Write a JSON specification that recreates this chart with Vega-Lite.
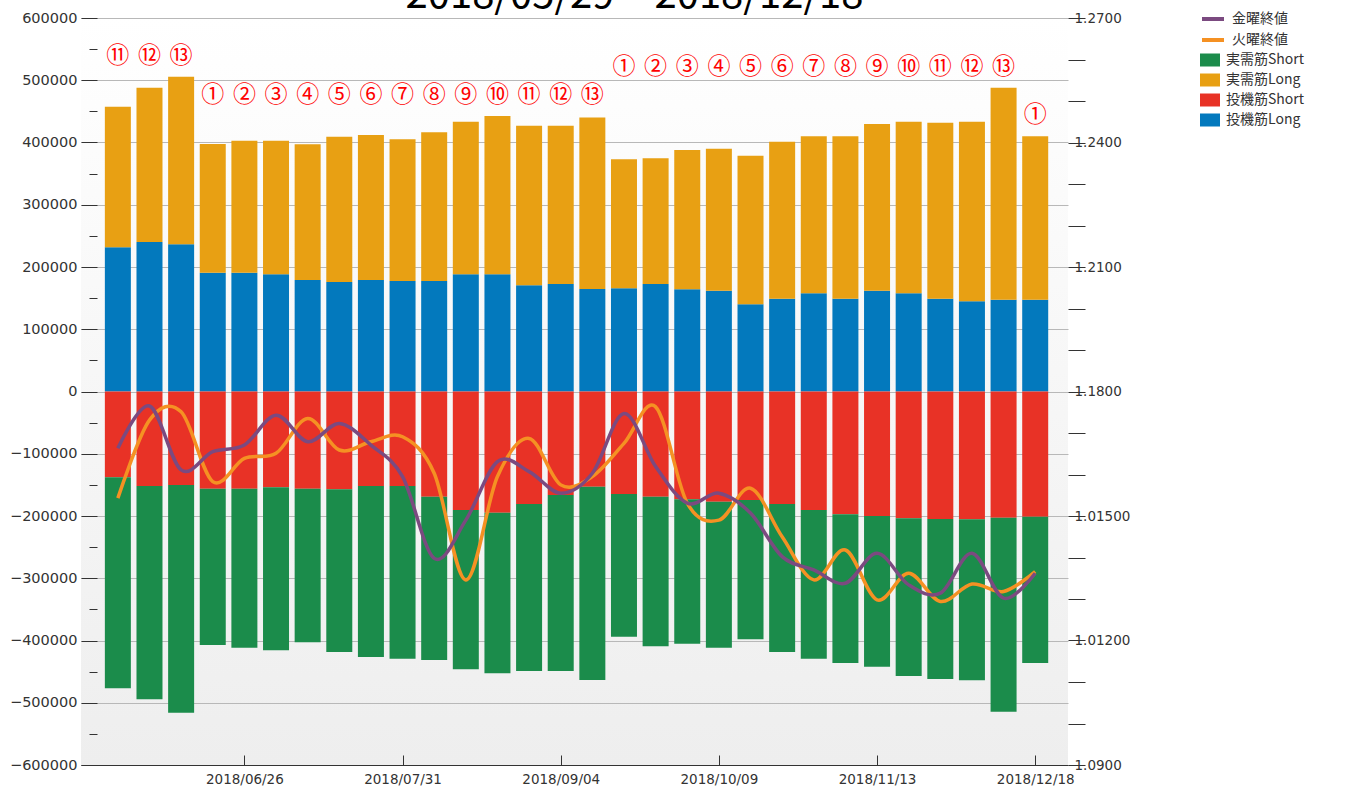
{
  "$schema": "https://vega.github.io/schema/vega-lite/v6.json",
  "autosize": "none",
  "width": 987,
  "height": 747,
  "padding": {"left": 81, "top": 18, "right": 283, "bottom": 31},
  "background": "white",
  "title": {"text": "2018/05/29～2018/12/18", "fontSize": 40, "font": "Noto Sans CJK JP", "fontWeight": "normal", "color": "#000000", "baseline": "alphabetic", "offset": 6, "dx": 60, "dy": 48, "anchor": "middle", "frame": "group"},
  "config": {
    "view": {"stroke": null, "fill": {"gradient": "linear", "x1": 0, "y1": 0, "x2": 0, "y2": 1, "stops": [{"offset": 0, "color": "#ffffff"}, {"offset": 1, "color": "#eeeeee"}]}},
    "axis": {"labelOverlap": false, "labelFlush": false, "title": null}
  },
  "data": {"values": [
    {"date": "2018-05-29", "投機筋Long": 231600, "実需筋Long": 225900, "投機筋Short": -137900, "実需筋Short": -338900, "金曜終値": 1.1663, "火曜終値": 1.1543, "num": "⑪", "grp": "A"},
    {"date": "2018-06-05", "投機筋Long": 240200, "実需筋Long": 247800, "投機筋Short": -151800, "実需筋Short": -342700, "金曜終値": 1.1765, "火曜終値": 1.1731, "num": "⑫", "grp": "A"},
    {"date": "2018-06-12", "投機筋Long": 236500, "実需筋Long": 269200, "投機筋Short": -150200, "実需筋Short": -365800, "金曜終値": 1.1611, "火曜終値": 1.1751, "num": "⑬", "grp": "A"},
    {"date": "2018-06-19", "投機筋Long": 190800, "実需筋Long": 206800, "投機筋Short": -156100, "実需筋Short": -251100, "金曜終値": 1.1655, "火曜終値": 1.1583, "num": "①", "grp": "B"},
    {"date": "2018-06-26", "投機筋Long": 190800, "実需筋Long": 212100, "投機筋Short": -156100, "実需筋Short": -255400, "金曜終値": 1.1671, "火曜終値": 1.1639, "num": "②", "grp": "B"},
    {"date": "2018-07-03", "投機筋Long": 188200, "実需筋Long": 214700, "投機筋Short": -153900, "実需筋Short": -261900, "金曜終値": 1.1743, "火曜終値": 1.1651, "num": "③", "grp": "B"},
    {"date": "2018-07-10", "投機筋Long": 179100, "実需筋Long": 218000, "投機筋Short": -156100, "実需筋Short": -246800, "金曜終値": 1.1679, "火曜終値": 1.1735, "num": "④", "grp": "B"},
    {"date": "2018-07-17", "投機筋Long": 175900, "実需筋Long": 233400, "投機筋Short": -157200, "実需筋Short": -261300, "金曜終値": 1.1723, "火曜終値": 1.1659, "num": "⑤", "grp": "B"},
    {"date": "2018-07-24", "投機筋Long": 179100, "実需筋Long": 232900, "投機筋Short": -151800, "実需筋Short": -274700, "金曜終値": 1.1671, "火曜終値": 1.1679, "num": "⑥", "grp": "B"},
    {"date": "2018-07-31", "投機筋Long": 177500, "実需筋Long": 227600, "投機筋Short": -151800, "実需筋Short": -277400, "金曜終値": 1.1595, "火曜終値": 1.1691, "num": "⑦", "grp": "B"},
    {"date": "2018-08-07", "投機筋Long": 177500, "実需筋Long": 238900, "投機筋Short": -169000, "実需筋Short": -262300, "金曜終値": 1.1398, "火曜終値": 1.1603, "num": "⑧", "grp": "B"},
    {"date": "2018-08-14", "投機筋Long": 188200, "実需筋Long": 245200, "投機筋Short": -190400, "実需筋Short": -255900, "金曜終値": 1.1490, "火曜終値": 1.1346, "num": "⑨", "grp": "B"},
    {"date": "2018-08-21", "投機筋Long": 188200, "実需筋Long": 254400, "投機筋Short": -194700, "実需筋Short": -258000, "金曜終値": 1.1631, "火曜終値": 1.1595, "num": "⑩", "grp": "B"},
    {"date": "2018-08-28", "投機筋Long": 170600, "実需筋Long": 256400, "投機筋Short": -180700, "実需筋Short": -268300, "金曜終値": 1.1607, "火曜終値": 1.1687, "num": "⑪", "grp": "B"},
    {"date": "2018-09-04", "投機筋Long": 172700, "実需筋Long": 254300, "投機筋Short": -166300, "実需筋Short": -282700, "金曜終値": 1.1555, "火曜終値": 1.1575, "num": "⑫", "grp": "B"},
    {"date": "2018-09-11", "投機筋Long": 164500, "実需筋Long": 275700, "投機筋Short": -152900, "実需筋Short": -310600, "金曜終値": 1.1603, "火曜終値": 1.1595, "num": "⑬", "grp": "B"},
    {"date": "2018-09-18", "投機筋Long": 165800, "実需筋Long": 207200, "投機筋Short": -164700, "実需筋Short": -229100, "金曜終値": 1.1747, "火曜終値": 1.1675, "num": "①", "grp": "C"},
    {"date": "2018-09-25", "投機筋Long": 172700, "実需筋Long": 201900, "投機筋Short": -169000, "実需筋Short": -240300, "金曜終値": 1.1619, "火曜終値": 1.1763, "num": "②", "grp": "C"},
    {"date": "2018-10-02", "投機筋Long": 164200, "実需筋Long": 223700, "投機筋Short": -173200, "実需筋Short": -231900, "金曜終値": 1.1531, "火曜終値": 1.1531, "num": "③", "grp": "C"},
    {"date": "2018-10-09", "投機筋Long": 161900, "実需筋Long": 228200, "投機筋Short": -177000, "実需筋Short": -234500, "金曜終値": 1.1555, "火曜終値": 1.1490, "num": "④", "grp": "C"},
    {"date": "2018-10-16", "投機筋Long": 140000, "実需筋Long": 238800, "投機筋Short": -174300, "実需筋Short": -223800, "金曜終値": 1.1507, "火曜終値": 1.1567, "num": "⑤", "grp": "C"},
    {"date": "2018-10-23", "投機筋Long": 149100, "実需筋Long": 252200, "投機筋Short": -180700, "実需筋Short": -237800, "金曜終値": 1.1402, "火曜終値": 1.1450, "num": "⑥", "grp": "C"},
    {"date": "2018-10-30", "投機筋Long": 157700, "実需筋Long": 252200, "投機筋Short": -190400, "実需筋Short": -238800, "金曜終値": 1.1370, "火曜終値": 1.1346, "num": "⑦", "grp": "C"},
    {"date": "2018-11-06", "投機筋Long": 149100, "実需筋Long": 260800, "投機筋Short": -197300, "実需筋Short": -238800, "金曜終値": 1.1338, "火曜終値": 1.1418, "num": "⑧", "grp": "C"},
    {"date": "2018-11-13", "投機筋Long": 161900, "実需筋Long": 267800, "投機筋Short": -200000, "実需筋Short": -242100, "金曜終値": 1.1410, "火曜終値": 1.1298, "num": "⑨", "grp": "C"},
    {"date": "2018-11-20", "投機筋Long": 157700, "実需筋Long": 275700, "投機筋Short": -203700, "実需筋Short": -253300, "金曜終値": 1.1334, "火曜終値": 1.1362, "num": "⑩", "grp": "C"},
    {"date": "2018-11-27", "投機筋Long": 149100, "実需筋Long": 282700, "投機筋Short": -204800, "実需筋Short": -257000, "金曜終値": 1.1314, "火曜終値": 1.1294, "num": "⑪", "grp": "C"},
    {"date": "2018-12-04", "投機筋Long": 144900, "実需筋Long": 288500, "投機筋Short": -205300, "実需筋Short": -258600, "金曜終値": 1.1410, "火曜終値": 1.1336, "num": "⑫", "grp": "C"},
    {"date": "2018-12-11", "投機筋Long": 147500, "実需筋Long": 340500, "投機筋Short": -202700, "実需筋Short": -311600, "金曜終値": 1.1302, "火曜終値": 1.1318, "num": "⑬", "grp": "C"},
    {"date": "2018-12-18", "投機筋Long": 147500, "実需筋Long": 262400, "投機筋Short": -201100, "実需筋Short": -235000, "金曜終値": 1.1362, "火曜終値": 1.1366, "num": "①", "grp": "D"}
  ]},
  "encoding": {
    "x": {
      "field": "date", "type": "temporal",
      "scale": {"type": "utc", "domain": [{"year": 2018, "month": 5, "date": 21, "hours": 22, "minutes": 48, "utc": true}, {"year": 2018, "month": 12, "date": 24, "hours": 3, "minutes": 36, "utc": true}]},
      "axis": {
        "values": [{"year": 2018, "month": 6, "date": 26, "utc": true}, {"year": 2018, "month": 7, "date": 31, "utc": true}, {"year": 2018, "month": 9, "date": 4, "utc": true}, {"year": 2018, "month": 10, "date": 9, "utc": true}, {"year": 2018, "month": 11, "date": 13, "utc": true}, {"year": 2018, "month": 12, "date": 18, "utc": true}],
        "labelExpr": "utcFormat(datum.value, '%Y/%m/%d')",
        "grid": false, "tickSize": -10, "labelPadding": 17,
        "domainColor": "#333333", "tickColor": "#333333",
        "labelFont": "DejaVu Sans", "labelFontSize": 13.5, "labelColor": "#333333"
      }
    }
  },
  "layer": [
    {
      "transform": [{"fold": ["投機筋Long", "実需筋Long", "投機筋Short", "実需筋Short"], "as": ["key", "value"]}],
      "mark": {"type": "bar", "width": 26},
      "encoding": {
        "y": {"field": "value", "type": "quantitative", "stack": "zero",
          "scale": {"domain": [-600000, 600000], "nice": false, "zero": false},
          "axis": {"orient": "left", "values": [-600000, -500000, -400000, -300000, -200000, -100000, 0, 100000, 200000, 300000, 400000, 500000, 600000],
            "format": "d", "tickSize": -16, "labelPadding": 20, "domain": false, "grid": true, "gridColor": "#b8b8b8",
            "tickColor": "#333333", "labelFont": "DejaVu Sans", "labelFontSize": 14.5, "labelColor": "#333333"}},
        "fill": {"field": "key", "type": "nominal",
          "scale": {"domain": ["実需筋Short", "実需筋Long", "投機筋Short", "投機筋Long"], "range": ["#1b8c4b", "#e8a013", "#e83226", "#0379bd"]},
          "legend": {"title": null, "orient": "none", "legendX": 1119, "legendY": 32, "symbolType": "M-1,-0.65L1,-0.65L1,0.65L-1,0.65Z", "symbolSize": 400, "symbolStrokeWidth": 0, "labelFont": "Noto Sans CJK JP", "labelFontSize": 14, "labelColor": "#333333", "rowPadding": 3, "labelOffset": 6}},
        "order": {"field": "key", "sort": "descending"}
      }
    },
    {
      "transform": [{"fold": ["火曜終値", "金曜終値"], "as": ["key", "value"]}],
      "mark": {"type": "line", "interpolate": "cardinal", "strokeWidth": 3.5},
      "encoding": {
        "y": {"field": "value", "type": "quantitative",
          "scale": {"domain": [1.09, 1.27], "nice": false, "zero": false},
          "axis": {"orient": "right", "values": [1.09, 1.1, 1.11, 1.12, 1.13, 1.14, 1.15, 1.16, 1.17, 1.18, 1.19, 1.2, 1.21, 1.22, 1.23, 1.24, 1.25, 1.26, 1.27],
            "labelExpr": "abs(datum.value-1.15)<0.001 ? '1.01500' : abs(datum.value-1.12)<0.001 ? '1.01200' : ((round(datum.value*100)-109)%3==0 ? format(datum.value, '.4f') : '')",
            "tickSize": 17, "labelPadding": -11, "labelAlign": "left", "domain": false, "grid": false,
            "tickColor": "#333333", "labelFont": "DejaVu Sans", "labelFontSize": 13.5, "labelColor": "#333333"}},
        "stroke": {"field": "key", "type": "nominal",
          "scale": {"domain": ["金曜終値", "火曜終値"], "range": ["#7b4a80", "#f59123"]},
          "legend": {"title": null, "orient": "none", "legendX": 1119, "legendY": -12, "symbolType": "stroke", "symbolSize": 484, "symbolStrokeWidth": 4, "labelFont": "Noto Sans CJK JP", "labelFontSize": 14, "labelColor": "#333333", "rowPadding": -2, "labelOffset": 6}}
      }
    },
    {
      "transform": [
        {"fold": ["投機筋Long", "実需筋Long"], "as": ["k", "v"]},
        {"aggregate": [{"op": "sum", "field": "v", "as": "tot"}], "groupby": ["date", "num", "grp"]},
        {"joinaggregate": [{"op": "max", "field": "tot", "as": "gmax"}], "groupby": ["grp"]}
      ],
      "mark": {"type": "text", "color": "#ff0000", "fontSize": 23, "font": "Noto Sans CJK JP", "dy": -21, "baseline": "middle"},
      "encoding": {
        "y": {"field": "gmax", "type": "quantitative", "scale": {"domain": [-600000, 600000], "nice": false, "zero": false}, "axis": null},
        "text": {"field": "num", "type": "nominal"}
      }
    },
    {
      "mark": {"type": "point", "opacity": 0},
      "encoding": {
        "y": {"field": "投機筋Long", "type": "quantitative", "scale": {"domain": [-600000, 600000], "nice": false, "zero": false},
          "axis": {"orient": "left", "offset": -16, "values": [-550000, -450000, -350000, -250000, -150000, -50000, 50000, 150000, 250000, 350000, 450000, 550000],
            "labels": false, "domain": false, "grid": false, "tickSize": 8, "tickColor": "#333333"}}
      }
    }
  ],
  "resolve": {"scale": {"y": "independent"}, "axis": {"y": "independent"}}
}
